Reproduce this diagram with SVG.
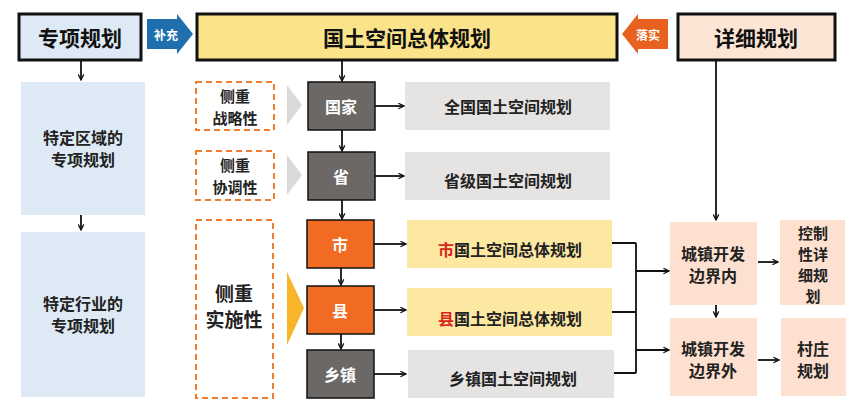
<svg xmlns="http://www.w3.org/2000/svg" width="859" height="415" viewBox="0 0 859 415">
<defs>
<style>
text{font-family:"Noto Sans CJK SC","Noto Sans",sans-serif;font-weight:bold;text-anchor:middle;dominant-baseline:central}
.t{font-size:16px;fill:#222}
.s{font-size:15px;fill:#222}
.w{font-size:16px;fill:#fff}
.dash{fill:#fff;stroke:#f07c30;stroke-width:2;stroke-dasharray:6 4}
.ln{stroke:#111;stroke-width:1.8;fill:none}
.la{stroke:#111;stroke-width:1.8;fill:none;marker-end:url(#ah)}
</style>
<marker id="ah" viewBox="0 0 10 10" refX="9" refY="5" markerWidth="7" markerHeight="7" orient="auto" markerUnits="userSpaceOnUse"><path d="M1 1L9 5L1 9" fill="none" stroke="#111" stroke-width="1.8"/></marker>
</defs>
<rect width="859" height="415" fill="#fff"/>
<g id="zxgh"><rect x="19" y="14" width="122" height="46" fill="#dde9f4" stroke="#111" stroke-width="3"/><text x="80" y="37" style="font-size:21px" fill="#111">专项规划</text></g>
<g id="bc"><path d="M147 19H177V14L193 34L177 54V49H147Z" fill="#1f6fae"/><text x="166" y="34" style="font-size:12px" fill="#fff">补充</text></g>
<g id="zt"><rect x="197" y="14" width="420" height="46" fill="#fbe38a" stroke="#111" stroke-width="3"/><text x="407" y="37" style="font-size:21px" fill="#111">国土空间总体规划</text></g>
<g id="ls"><path d="M668 19H638V14L622 34L638 54V49H668Z" fill="#e8611e"/><text x="648" y="34" style="font-size:12px" fill="#fff">落实</text></g>
<g id="xxgh"><rect x="678" y="14" width="157" height="46" fill="#fde5d6" stroke="#111" stroke-width="3"/><text x="756" y="37" style="font-size:21px" fill="#111">详细规划</text></g>
<g id="tdqy"><rect x="21" y="82" width="124" height="133" fill="#dde9f4"/><text class="t" x="83" y="137">特定区域的</text><text class="t" x="83" y="159">专项规划</text></g>
<g id="tdhy"><rect x="21" y="232" width="124" height="165" fill="#dde9f4"/><text class="t" x="83" y="303">特定行业的</text><text class="t" x="83" y="325">专项规划</text></g>
<g id="d1"><rect class="dash" x="196" y="82" width="78" height="48"/><text class="s" x="235" y="95">侧重</text><text class="s" x="235" y="117">战略性</text></g>
<g id="d2"><rect class="dash" x="196" y="151" width="78" height="49"/><text class="s" x="235" y="164">侧重</text><text class="s" x="235" y="186">协调性</text></g>
<g id="d3"><rect class="dash" x="196" y="220" width="77" height="178"/><text style="font-size:19px" fill="#222" x="234" y="292">侧重</text><text style="font-size:19px" fill="#222" x="234" y="318">实施性</text></g>
<g id="chev"><path d="M287 85L302 105L287 125Z" fill="#dcdad8"/><path d="M287 155L302 175L287 195Z" fill="#dcdad8"/><path d="M287 272L304 308L287 345Z" fill="#f7b62a"/></g>
<g id="gj"><rect x="308" y="82" width="67" height="48" fill="#6b6866" stroke="#111" stroke-width="1.5"/><text class="w" x="341" y="106">国家</text></g>
<g id="sheng"><rect x="308" y="152" width="67" height="48" fill="#6b6866" stroke="#111" stroke-width="1.5"/><text class="w" x="341" y="176">省</text></g>
<g id="shi"><rect x="307" y="220" width="67" height="48" fill="#f26b22" stroke="#111" stroke-width="1.5"/><text class="w" x="340" y="244">市</text></g>
<g id="xian"><rect x="307" y="286" width="67" height="48" fill="#f26b22" stroke="#111" stroke-width="1.5"/><text class="w" x="340" y="310">县</text></g>
<g id="xz"><rect x="307" y="350" width="67" height="48" fill="#6b6866" stroke="#111" stroke-width="1.5"/><text class="w" x="340" y="374">乡镇</text></g>
<g id="r1"><rect x="405" y="82" width="205" height="48" fill="#e6e4e2"/><text class="t" x="508" y="106">全国国土空间规划</text></g>
<g id="r2"><rect x="405" y="152" width="205" height="48" fill="#e6e4e2"/><text class="t" x="508" y="180">省级国土空间规划</text></g>
<g id="r3"><rect x="407" y="220" width="205" height="48" fill="#fde8a2"/><text class="t" x="510" y="249"><tspan fill="#d7261e">市</tspan>国土空间总体规划</text></g>
<g id="r4"><rect x="407" y="288" width="205" height="48" fill="#fde8a2"/><text class="t" x="510" y="318"><tspan fill="#d7261e">县</tspan>国土空间总体规划</text></g>
<g id="r5"><rect x="408" y="350" width="206" height="48" fill="#e6e4e2"/><text class="t" x="513" y="378">乡镇国土空间规划</text></g>
<g id="bjn"><rect x="670" y="222" width="87" height="83" fill="#fde0cf"/><text class="t" x="713" y="253">城镇开发</text><text class="t" x="713" y="275">边界内</text></g>
<g id="bjw"><rect x="670" y="318" width="87" height="78" fill="#fde0cf"/><text class="t" x="713" y="348">城镇开发</text><text class="t" x="713" y="370">边界外</text></g>
<g id="kg"><rect x="780" y="220" width="65" height="85" fill="#fde0cf"/><text class="s" x="813" y="232">控制</text><text class="s" x="813" y="253">性详</text><text class="s" x="813" y="274">细规</text><text class="s" x="813" y="295">划</text></g>
<g id="cz"><rect x="781" y="318" width="65" height="78" fill="#fde0cf"/><text class="t" x="813" y="348">村庄</text><text class="t" x="813" y="370">规划</text></g>
<g id="connectors">
<path class="la" d="M81 61V80"/>
<path class="la" d="M81 215V230"/>
<path class="la" d="M342 61V81"/>
<path class="la" d="M342 130V151"/>
<path class="la" d="M342 200V219"/>
<path class="la" d="M341 268V285"/>
<path class="la" d="M341 334V349"/>
<path class="la" d="M375 106H404"/>
<path class="la" d="M375 176H404"/>
<path class="la" d="M374 244H406"/>
<path class="la" d="M374 310H406"/>
<path class="la" d="M374 374H406"/>
<path class="ln" d="M612 243H636M612 312H636M614 373H636M636 243V373"/>
<path class="la" d="M636 271H669"/>
<path class="la" d="M636 350H669"/>
<path class="la" d="M716 61V220"/>
<path class="la" d="M716 305V317"/>
<path class="la" d="M758 262H778"/>
<path class="la" d="M758 360H779"/>
</g>
</svg>
